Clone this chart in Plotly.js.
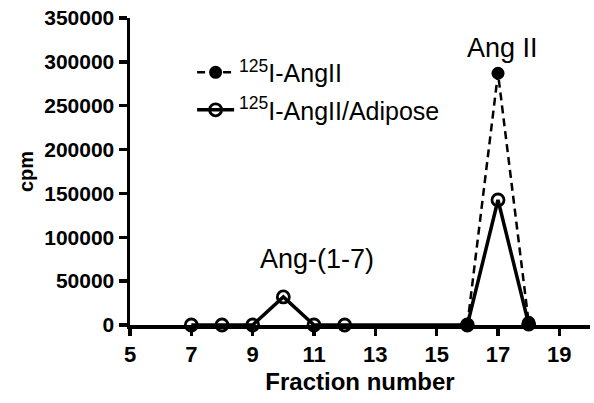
<!DOCTYPE html>
<html>
<head>
<meta charset="utf-8">
<script src="https://cdn.plot.ly/plotly-3.0.1.min.js"></script>
<style>html,body{margin:0;padding:0;background:#fff;}#chart{width:594px;height:403px;}</style>
</head>
<body>
<div id="chart"></div>
<script>
// Data
const angIIFractions = [16, 17, 18];
const angIICpm = [0, 287000, 3000];
const adiposeFractions = [7, 8, 9, 10, 11, 12, 16, 17, 18];
const adiposeCpm = [0, 0, 0, 32000, 0, 0, 0, 142500, 1000];
const xTicks = [5, 7, 9, 11, 13, 15, 17, 19];
const yTicks = [0, 50000, 100000, 150000, 200000, 250000, 300000, 350000];
const seriesNames = ['<sup>125</sup>I-AngII', '<sup>125</sup>I-AngII/Adipose'];
const peakLabels = [{x: 17.16, y: 316000, text: 'Ang II'}, {x: 11.1, y: 75500, text: 'Ang-(1-7)'}];

const FONT = 'Arial, "Liberation Sans", sans-serif';

const traces = [
  {
    x: angIIFractions, y: angIICpm, name: seriesNames[0],
    mode: 'lines+markers', cliponaxis: false, legendgroup: 'a',
    line: {color: '#000', width: 2.5, dash: '8px,5px'},
    marker: {symbol: 'circle', size: 13, color: '#000'}
  },
  {
    x: adiposeFractions, y: adiposeCpm, name: seriesNames[1],
    mode: 'lines+markers', cliponaxis: false, legendgroup: 'b',
    line: {color: '#000', width: 3.5},
    marker: {symbol: 'circle-open', size: 12, color: '#000', line: {width: 2.8, color: '#000'}}
  }
];

const layout = {
  width: 594, height: 403,
  margin: {l: 130, r: 4, t: 18, b: 78},
  paper_bgcolor: '#fff', plot_bgcolor: '#fff',
  showlegend: true,
  legend: {
    x: 0.135, y: 0.762, xanchor: 'left', yanchor: 'middle',
    font: {family: FONT, size: 25, color: '#000'},
    bgcolor: 'rgba(0,0,0,0)', traceorder: 'grouped', tracegroupgap: 2,
    itemwidth: 37
  },
  xaxis: {
    range: [5, 20], tickvals: xTicks, ticktext: xTicks.map(String),
    showgrid: false, zeroline: false,
    showline: true, linecolor: '#000', linewidth: 3.5,
    ticks: 'outside', ticklen: 7, tickwidth: 3.5, tickcolor: '#000',
    tickfont: {family: FONT, size: 22, color: '#000', weight: 'bold'},
    title: {text: '<b>Fraction number</b>', font: {family: FONT, size: 24, color: '#000'}, standoff: 8}
  },
  yaxis: {
    range: [0, 350000], tickvals: yTicks, ticktext: yTicks.map(String),
    showgrid: false, zeroline: false,
    showline: true, linecolor: '#000', linewidth: 3.5,
    ticks: 'outside', ticklen: 8, tickwidth: 3.5, tickcolor: '#000',
    tickfont: {family: FONT, size: 21, color: '#000', weight: 'bold'},
    title: {text: '<b>cpm</b>', font: {family: FONT, size: 20, color: '#000'}, standoff: 6}
  },
  annotations: peakLabels.map(p => ({
    x: p.x, y: p.y, xref: 'x', yref: 'y', text: p.text, showarrow: false,
    font: {family: FONT, size: 27, color: '#000'}
  }))
};

Plotly.newPlot('chart', traces, layout, {displayModeBar: false, staticPlot: true});
</script>
</body>
</html>
